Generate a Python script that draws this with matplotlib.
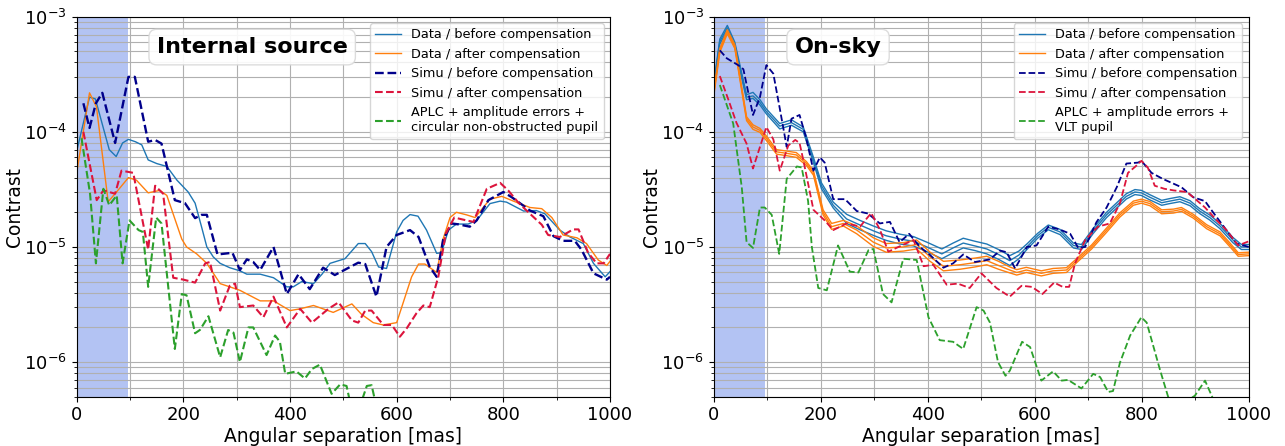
import matplotlib
matplotlib.use("Agg")
import matplotlib.pyplot as plt
from matplotlib.ticker import MultipleLocator

# ---------------- Left panel: Internal source ----------------
L_DB_X = [0, 24, 35, 61, 74, 86, 97, 110, 122, 134, 150, 169, 188, 209, 222, 234, 244, 256, 269, 287,
          306, 319, 344, 369, 394, 406, 422, 444, 460, 475, 503, 528, 541, 553, 566, 581, 600, 612, 625,
          640, 656, 675, 684, 697, 712, 734, 750, 775, 794, 806, 838, 862, 878, 906, 925, 950, 969, 991, 1000]
L_DB_Y = [6.8e-5, 2.0e-4, 1.93e-4, 7.0e-5, 6.1e-5, 8.0e-5, 8.6e-5, 8.2e-5, 7.7e-5, 5.7e-5, 5.3e-5, 5.0e-5,
          3.8e-5, 3.0e-5, 2.4e-5, 1.5e-5, 1.0e-5, 8.2e-6, 7.2e-6, 6.6e-6, 6.2e-6, 5.8e-6, 5.8e-6, 5.4e-6,
          4.5e-6, 4.5e-6, 5.0e-6, 4.8e-6, 5.8e-6, 7.2e-6, 7.9e-6, 1.07e-5, 1.07e-5, 9.1e-6, 6.7e-6, 6.5e-6,
          1.35e-5, 1.7e-5, 1.91e-5, 1.85e-5, 1.4e-5, 8.8e-6, 8.9e-6, 1.4e-5, 1.58e-5, 1.58e-5, 1.7e-5,
          2.38e-5, 2.5e-5, 2.45e-5, 2.05e-5, 2.07e-5, 1.94e-5, 1.4e-5, 1.22e-5, 1.07e-5, 7.2e-6, 5.5e-6, 6.1e-6]

L_DA_X = [0, 24, 37, 59, 72, 97, 112, 134, 156, 169, 197, 206, 225, 244, 269, 287, 306, 344, 369, 400,
          419, 444, 481, 516, 534, 556, 575, 600, 628, 641, 653, 675, 687, 700, 712, 731, 747, 775, 797,
          819, 850, 872, 891, 912, 938, 956, 978, 994, 1000]
L_DA_Y = [4.4e-5, 2.18e-4, 1.65e-4, 2.47e-5, 2.9e-5, 4.0e-5, 3.8e-5, 2.95e-5, 3.1e-5, 2.8e-5, 1.17e-5,
          1.0e-5, 8.7e-6, 7.2e-6, 4.8e-6, 4.5e-6, 4.2e-6, 3.4e-6, 3.4e-6, 2.8e-6, 2.9e-6, 3.1e-6, 2.7e-6,
          3.2e-6, 2.6e-6, 2.2e-6, 2.1e-6, 2.2e-6, 5.5e-6, 7.1e-6, 7.1e-6, 6.0e-6, 1.17e-5, 1.8e-5, 2.0e-5,
          1.9e-5, 1.8e-5, 2.6e-5, 2.75e-5, 2.5e-5, 2.2e-5, 2.15e-5, 1.8e-5, 1.27e-5, 1.2e-5, 1.07e-5,
          7.7e-6, 6.9e-6, 7.5e-6]

L_SB_X = [12.5, 24, 36, 48, 72, 97, 109, 134, 147, 159, 184, 203, 222, 234, 244, 264, 292, 306, 319, 331,
          344, 369, 394, 416, 437, 462, 484, 528, 541, 562, 581, 600, 625, 641, 662, 675, 687, 703, 716,
          737, 750, 772, 800, 816, 850, 875, 894, 912, 934, 947, 969, 994, 1000]
L_SB_Y = [1.77e-4, 1.08e-4, 1.77e-4, 2.18e-4, 8.0e-5, 3.0e-4, 3.0e-4, 8.2e-5, 8.5e-5, 7.9e-5, 2.55e-5,
          2.4e-5, 1.78e-5, 1.9e-5, 1.9e-5, 8.6e-6, 8.9e-6, 6.3e-6, 7.8e-6, 7.4e-6, 6.3e-6, 1.0e-5, 3.9e-6,
          5.8e-6, 4.3e-6, 6.6e-6, 5.7e-6, 7.3e-6, 7.1e-6, 3.7e-6, 1.0e-5, 1.27e-5, 1.4e-5, 1.22e-5, 6.7e-6,
          5.5e-6, 1.15e-5, 1.6e-5, 1.57e-5, 1.5e-5, 1.7e-5, 2.55e-5, 3.0e-5, 2.7e-5, 2.07e-5, 1.85e-5,
          1.24e-5, 1.13e-5, 1.13e-5, 9.4e-6, 5.9e-6, 5.2e-6, 5.5e-6]

L_SA_X = [12.5, 37.5, 50, 72, 84, 106, 134, 147, 162, 181, 200, 222, 241, 250, 269, 287, 297, 306, 331,
          350, 369, 394, 419, 441, 472, 491, 516, 528, 541, 553, 575, 591, 606, 619, 637, 650, 662, 678,
          692, 708, 731, 744, 769, 794, 809, 828, 850, 872, 884, 906, 931, 941, 959, 975, 988, 1000]
L_SA_Y = [1.0e-4, 2.55e-5, 3.1e-5, 2.9e-5, 4.6e-5, 4.4e-5, 9.5e-6, 3.4e-5, 2.9e-5, 5.4e-6, 5.2e-6, 4.9e-6,
          7.2e-6, 7.4e-6, 2.8e-6, 4.6e-6, 4.8e-6, 3.0e-6, 3.1e-6, 2.45e-6, 3.7e-6, 2.0e-6, 2.9e-6, 2.2e-6,
          2.9e-6, 3.3e-6, 2.3e-6, 2.2e-6, 2.8e-6, 2.8e-6, 2.1e-6, 2.1e-6, 1.66e-6, 1.97e-6, 2.65e-6, 3.1e-6,
          3.0e-6, 5.5e-6, 1.3e-5, 1.8e-5, 1.7e-5, 1.65e-5, 3.2e-5, 3.6e-5, 3.1e-5, 2.43e-5, 1.94e-5,
          1.56e-5, 1.27e-5, 1.22e-5, 1.42e-5, 1.42e-5, 8.9e-6, 7.2e-6, 7.2e-6, 8.7e-6]

L_AP_X = [9, 25, 36, 50, 61, 75, 86, 99, 116, 124, 134, 149, 159, 184, 197, 206, 222, 231, 247, 269, 284,
          294, 306, 322, 331, 356, 372, 381, 391, 412, 428, 441, 456, 478, 494, 506, 515, 530, 544, 553,
          560, 575]
L_AP_Y = [8.8e-5, 2.9e-5, 7.2e-6, 3.2e-5, 2.3e-5, 2.8e-5, 7.2e-6, 1.7e-5, 1.4e-5, 1.35e-5, 4.5e-6, 1.8e-5,
          1.6e-5, 1.3e-6, 3.9e-6, 3.8e-6, 1.78e-6, 1.9e-6, 2.5e-6, 1.1e-6, 1.9e-6, 1.8e-6, 1.0e-6, 2.0e-6,
          2.0e-6, 1.15e-6, 1.7e-6, 1.5e-6, 7.9e-7, 8.3e-7, 7.2e-7, 8.7e-7, 9.5e-7, 5.3e-7, 6.4e-7, 6.2e-7,
          4.0e-7, 4.0e-7, 6.2e-7, 6.3e-7, 4.5e-7, 3.0e-7]

# ---------------- Right panel: On-sky ----------------
R_DB_X = [0, 11, 25, 39, 61, 73, 86, 98, 123, 145, 167, 186, 201, 223, 248, 273, 298, 322, 348, 373, 398,
          426, 447, 466, 488, 510, 532, 553, 570, 585, 605, 625, 647, 672, 687, 709, 734, 753, 771, 787,
          799, 815, 837, 852, 871, 890, 908, 927, 946, 970, 986, 1000]
R_DB_Y_HI = [2.7e-4, 6.4e-4, 8.4e-4, 6.0e-4, 2.1e-4, 2.2e-4, 1.9e-4, 1.58e-4, 1.18e-4, 1.27e-4, 1.1e-4,
             6.0e-5, 3.6e-5, 2.45e-5, 1.92e-5, 1.7e-5, 1.52e-5, 1.38e-5, 1.29e-5, 1.23e-5, 1.1e-5, 9.6e-6,
             1.08e-5, 1.19e-5, 1.12e-5, 1.06e-5, 9.5e-6, 8.4e-6, 9.2e-6, 1.06e-5, 1.31e-5, 1.55e-5, 1.42e-5,
             1.08e-5, 1.05e-5, 1.45e-5, 2.0e-5, 2.42e-5, 2.9e-5, 3.15e-5, 3.1e-5, 2.84e-5, 2.54e-5, 2.63e-5,
             2.73e-5, 2.52e-5, 2.15e-5, 1.89e-5, 1.6e-5, 1.21e-5, 1.05e-5, 1.05e-5]
R_DB_Y_MID = [2.6e-4, 6.1e-4, 8.0e-4, 5.7e-4, 2.0e-4, 2.05e-4, 1.8e-4, 1.5e-4, 1.12e-4, 1.2e-4, 1.05e-4,
              5.7e-5, 3.4e-5, 2.3e-5, 1.75e-5, 1.55e-5, 1.38e-5, 1.25e-5, 1.17e-5, 1.12e-5, 1.0e-5, 8.7e-6,
              9.8e-6, 1.08e-5, 1.02e-5, 9.6e-6, 8.6e-6, 7.6e-6, 8.5e-6, 1.0e-5, 1.25e-5, 1.48e-5, 1.35e-5,
              1.03e-5, 1.0e-5, 1.38e-5, 1.9e-5, 2.3e-5, 2.75e-5, 3.0e-5, 2.95e-5, 2.7e-5, 2.42e-5, 2.5e-5,
              2.6e-5, 2.4e-5, 2.05e-5, 1.8e-5, 1.52e-5, 1.15e-5, 1.0e-5, 1.0e-5]
R_DB_Y_LO = [2.5e-4, 5.8e-4, 7.6e-4, 5.4e-4, 1.9e-4, 1.95e-4, 1.71e-4, 1.43e-4, 1.06e-4, 1.14e-4, 1.0e-4,
             5.4e-5, 3.2e-5, 2.18e-5, 1.6e-5, 1.41e-5, 1.26e-5, 1.14e-5, 1.06e-5, 1.02e-5, 9.1e-6, 7.9e-6,
             8.9e-6, 9.8e-6, 9.3e-6, 8.7e-6, 7.8e-6, 6.9e-6, 7.9e-6, 9.5e-6, 1.19e-5, 1.41e-5, 1.28e-5,
             9.8e-6, 9.5e-6, 1.31e-5, 1.8e-5, 2.18e-5, 2.61e-5, 2.85e-5, 2.8e-5, 2.56e-5, 2.3e-5, 2.38e-5,
             2.47e-5, 2.28e-5, 1.95e-5, 1.71e-5, 1.44e-5, 1.09e-5, 9.5e-6, 9.5e-6]

R_DA_X = [0, 11, 25, 39, 61, 73, 86, 98, 117, 136, 154, 173, 186, 204, 220, 242, 267, 298, 322, 354, 379,
          404, 429, 460, 488, 510, 532, 553, 566, 584, 612, 634, 659, 678, 706, 734, 759, 784, 799, 815,
          837, 859, 874, 896, 921, 946, 964, 980, 1000]
R_DA_Y_HI = [2.3e-4, 5.3e-4, 7.7e-4, 5.7e-4, 1.35e-4, 1.15e-4, 1.07e-4, 9.2e-5, 7.0e-5, 6.8e-5, 6.6e-5,
             5.5e-5, 4.6e-5, 2.1e-5, 1.6e-5, 1.7e-5, 1.52e-5, 1.2e-5, 1.07e-5, 1.09e-5, 1.15e-5, 9.0e-6,
             7.5e-6, 7.7e-6, 8.0e-6, 8.3e-6, 7.5e-6, 6.7e-6, 6.35e-6, 6.65e-6, 6.2e-6, 6.5e-6, 6.6e-6,
             7.9e-6, 1.04e-5, 1.46e-5, 1.98e-5, 2.5e-5, 2.6e-5, 2.48e-5, 2.1e-5, 2.13e-5, 2.2e-5, 1.92e-5,
             1.56e-5, 1.35e-5, 1.09e-5, 8.9e-6, 9.0e-6]
R_DA_Y_MID = [2.2e-4, 5.1e-4, 7.4e-4, 5.5e-4, 1.3e-4, 1.1e-4, 1.03e-4, 8.8e-5, 6.7e-5, 6.5e-5, 6.3e-5,
              5.3e-5, 4.4e-5, 2.0e-5, 1.5e-5, 1.6e-5, 1.4e-5, 1.1e-5, 9.8e-6, 1.0e-5, 1.05e-5, 8.2e-6,
              6.8e-6, 7.0e-6, 7.3e-6, 7.6e-6, 6.9e-6, 6.3e-6, 6.0e-6, 6.3e-6, 5.9e-6, 6.2e-6, 6.3e-6,
              7.6e-6, 1.0e-5, 1.4e-5, 1.9e-5, 2.4e-5, 2.5e-5, 2.38e-5, 2.02e-5, 2.05e-5, 2.12e-5, 1.85e-5,
              1.5e-5, 1.3e-5, 1.05e-5, 8.6e-6, 8.7e-6]
R_DA_Y_LO = [2.1e-4, 4.9e-4, 7.1e-4, 5.3e-4, 1.25e-4, 1.05e-4, 9.9e-5, 8.4e-5, 6.4e-5, 6.2e-5, 6.0e-5,
             5.1e-5, 4.2e-5, 1.9e-5, 1.42e-5, 1.52e-5, 1.3e-5, 1.01e-5, 9.0e-6, 9.2e-6, 9.6e-6, 7.5e-6,
             6.2e-6, 6.4e-6, 6.7e-6, 7.0e-6, 6.4e-6, 5.95e-6, 5.7e-6, 6.0e-6, 5.6e-6, 5.9e-6, 6.0e-6,
             7.3e-6, 9.6e-6, 1.34e-5, 1.82e-5, 2.3e-5, 2.4e-5, 2.28e-5, 1.94e-5, 1.97e-5, 2.04e-5, 1.78e-5,
             1.44e-5, 1.25e-5, 1.01e-5, 8.3e-6, 8.4e-6]

R_SB_X = [11, 24, 45, 55, 73, 86, 98, 111, 123, 136, 145, 160, 172, 186, 198, 207, 223, 245, 267, 288, 310,
          329, 347, 365, 385, 404, 429, 447, 466, 488, 516, 535, 547, 563, 585, 603, 625, 646, 666, 681,
          694, 715, 734, 753, 771, 793, 799, 818, 839, 874, 896, 918, 934, 958, 977, 1000]
R_SB_Y = [5.1e-4, 4.35e-4, 3.8e-4, 3.5e-4, 1.4e-4, 2.0e-4, 3.8e-4, 3.2e-4, 1.6e-4, 7.4e-5, 1.3e-4, 1.4e-4,
          9.0e-5, 4.6e-5, 6.0e-5, 5.4e-5, 2.6e-5, 2.6e-5, 2.05e-5, 1.95e-5, 1.6e-5, 1.65e-5, 1.1e-5, 1.3e-5,
          1.0e-5, 8.5e-6, 6.6e-6, 7.2e-6, 8.6e-6, 7.4e-6, 7.8e-6, 9.3e-6, 9.0e-6, 6.5e-6, 1.0e-5, 1.03e-5,
          1.5e-5, 1.42e-5, 1.3e-5, 9.8e-6, 1.0e-5, 1.64e-5, 2.2e-5, 3.3e-5, 5.3e-5, 5.4e-5, 5.6e-5, 4.4e-5,
          3.9e-5, 3.3e-5, 2.7e-5, 2.5e-5, 1.97e-5, 1.4e-5, 1.07e-5, 1.0e-5]

R_SA_X = [11, 27, 42, 61, 73, 98, 111, 123, 139, 152, 160, 167, 186, 207, 223, 248, 273, 294, 310, 326, 345,
          373, 392, 410, 435, 456, 478, 500, 528, 553, 575, 594, 614, 636, 652, 664, 675, 694, 718, 740,
          759, 774, 788, 799, 811, 824, 842, 859, 884, 896, 918, 940, 958, 980, 1000]
R_SA_Y = [3.05e-4, 1.9e-4, 1.2e-4, 7.9e-5, 4.8e-5, 1.1e-4, 8.6e-5, 4.6e-5, 7.6e-5, 8.5e-5, 8.0e-5, 5.7e-5,
          2.1e-5, 1.7e-5, 1.4e-5, 1.6e-5, 1.5e-5, 1.97e-5, 1.42e-5, 9.1e-6, 1.0e-5, 1.15e-5, 6.8e-6, 7.0e-6,
          4.7e-6, 4.8e-6, 4.4e-6, 5.9e-6, 4.4e-6, 3.7e-6, 4.6e-6, 4.5e-6, 3.9e-6, 4.9e-6, 4.5e-6, 4.5e-6,
          7.2e-6, 1.15e-5, 1.5e-5, 1.6e-5, 2.4e-5, 4.4e-5, 5.0e-5, 5.6e-5, 4.9e-5, 3.4e-5, 3.2e-5, 3.1e-5,
          3.0e-5, 2.7e-5, 2.2e-5, 1.7e-5, 1.4e-5, 1.03e-5, 1.12e-5]

R_AP_X = [11, 36, 52, 61, 73, 86, 95, 108, 122, 136, 155, 164, 176, 183, 195, 211, 232, 254, 270, 289, 298,
          316, 332, 354, 379, 401, 422, 447, 466, 491, 504, 516, 531, 545, 553, 576, 591, 612, 634, 650,
          662, 687, 709, 722, 737, 746, 759, 778, 799, 809, 834, 849, 870, 890, 899, 918, 933, 960, 1000]
R_AP_Y = [2.55e-4, 1.18e-4, 3.3e-5, 1.1e-5, 9.8e-6, 2.2e-5, 2.2e-5, 1.9e-5, 8.7e-6, 3.9e-5, 5.0e-5, 4.9e-5,
          2.5e-5, 1.0e-5, 4.4e-6, 4.2e-6, 1.03e-5, 6.1e-6, 6.0e-6, 9.4e-6, 9.6e-6, 3.9e-6, 3.3e-6, 7.9e-6,
          7.7e-6, 2.45e-6, 1.55e-6, 1.5e-6, 1.3e-6, 3.0e-6, 2.8e-6, 2.2e-6, 1.0e-6, 7.6e-7, 8.4e-7, 1.5e-6,
          1.35e-6, 6.9e-7, 8.3e-7, 6.9e-7, 7.0e-7, 5.9e-7, 7.9e-7, 7.4e-7, 5.5e-7, 5.6e-7, 9.9e-7, 1.7e-6,
          2.45e-6, 2.2e-6, 8.5e-7, 5.0e-7, 4.0e-7, 4.8e-7, 5.1e-7, 6.9e-7, 4.8e-7, 3.5e-7, 3.5e-7]

TITLES = ["Internal source", "On-sky"]
LEGEND_LABELS = ["Data / before compensation", "Data / after compensation",
                 "Simu / before compensation", "Simu / after compensation"]
APLC_LABELS = ["APLC + amplitude errors +\ncircular non-obstructed pupil",
               "APLC + amplitude errors +\nVLT pupil"]
X_TICKS = [0, 200, 400, 600, 800, 1000]

C_DB, C_DA, C_SB, C_SA, C_AP = "#1f77b4", "#ff7f0e", "darkblue", "crimson", "#2ca02c"

fig = plt.figure(figsize=(12.85, 4.46), dpi=100)
axL = fig.add_axes([0.0597, 0.1105, 0.4150, 0.8521])
axR = fig.add_axes([0.5556, 0.1105, 0.4163, 0.8521])

for ax in (axL, axR):
    ax.axvspan(0, 95.5, color="royalblue", alpha=0.4, lw=0)

# Left
axL.plot(L_DB_X, L_DB_Y, color=C_DB, lw=1.0, label=LEGEND_LABELS[0])
axL.plot(L_DA_X, L_DA_Y, color=C_DA, lw=1.0, label=LEGEND_LABELS[1])
axL.plot(L_SB_X, L_SB_Y, color=C_SB, lw=1.7, ls="--", label=LEGEND_LABELS[2])
axL.plot(L_SA_X, L_SA_Y, color=C_SA, lw=1.5, ls="--", label=LEGEND_LABELS[3])
axL.plot(L_AP_X, L_AP_Y, color=C_AP, lw=1.5, ls="--", label=APLC_LABELS[0])

# Right
axR.plot(R_DB_X, R_DB_Y_HI, color=C_DB, lw=1.0, label=LEGEND_LABELS[0])
axR.plot(R_DB_X, R_DB_Y_MID, color=C_DB, lw=1.0)
axR.plot(R_DB_X, R_DB_Y_LO, color=C_DB, lw=1.0)
axR.plot(R_DA_X, R_DA_Y_HI, color=C_DA, lw=1.0, label=LEGEND_LABELS[1])
axR.plot(R_DA_X, R_DA_Y_MID, color=C_DA, lw=1.0)
axR.plot(R_DA_X, R_DA_Y_LO, color=C_DA, lw=1.0)
axR.plot(R_SB_X, R_SB_Y, color=C_SB, lw=1.3, ls="--", label=LEGEND_LABELS[2])
axR.plot(R_SA_X, R_SA_Y, color=C_SA, lw=1.3, ls="--", label=LEGEND_LABELS[3])
axR.plot(R_AP_X, R_AP_Y, color=C_AP, lw=1.3, ls="--", label=APLC_LABELS[1])

title_pos = [(0.329, 0.92), (0.232, 0.92)]
for ax, title, pos in zip((axL, axR), TITLES, title_pos):
    ax.set_yscale("log")
    ax.set_xlim(0, 1000)
    ax.set_ylim(5e-7, 1e-3)
    ax.set_xticks(X_TICKS)
    ax.xaxis.set_minor_locator(MultipleLocator(100))
    ax.grid(True, which="both", color="#b0b0b0", lw=0.8)
    ax.tick_params(axis="both", which="major", labelsize=13)
    ax.set_xlabel("Angular separation [mas]", fontsize=13.4, labelpad=2)
    ax.set_ylabel("Contrast", fontsize=13.4)
    ax.yaxis.set_label_coords(-0.099, 0.5)
    ax.legend(loc="upper right", fontsize=9.3, framealpha=0.8)
    ax.text(pos[0], pos[1], title, transform=ax.transAxes, ha="center", va="center",
            fontsize=16, fontweight="bold",
            bbox=dict(boxstyle="round,pad=0.35", facecolor="white", edgecolor="0.85", alpha=0.9))

fig.savefig("out.png", dpi=100)
